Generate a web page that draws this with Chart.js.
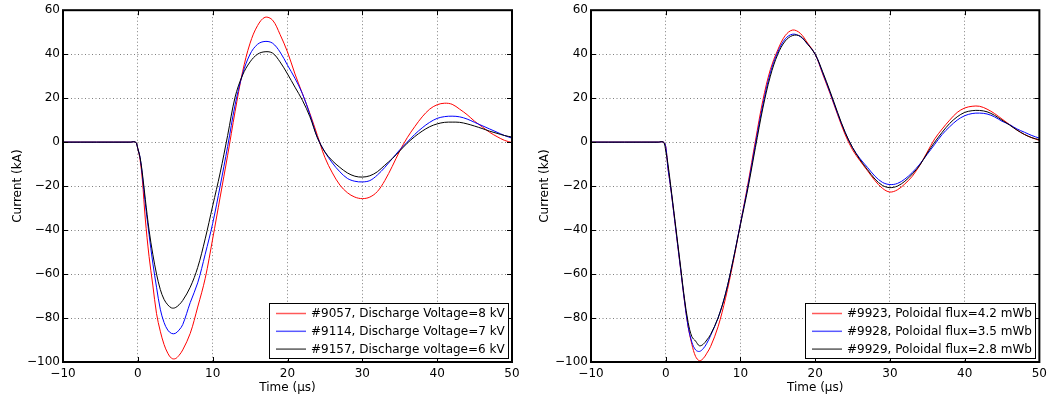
<!DOCTYPE html>
<html>
<head>
<meta charset="utf-8">
<title>Discharge current waveforms</title>
<script src="https://cdn.jsdelivr.net/npm/chart.js@4.4.1/dist/chart.umd.min.js"></script>
<style>
  html, body { margin: 0; padding: 0; background: #fff; }
  #wrap { position: relative; width: 1052px; height: 402px; }
  .panel { position: absolute; top: 0; }
  #voltageChart { left: 0; }
  #fluxChart { left: 526px; }
</style>
</head>
<body>
<div id="wrap">
  <canvas id="voltageChart" class="panel" width="526" height="402"></canvas>
  <canvas id="fluxChart" class="panel" width="526" height="402"></canvas>
</div>
<script>
/* sample times (us), shared by every trace */
const timeUs = [-10, -1, -0.3, 0, 0.3, 0.6, 1, 1.5, 2, 2.5, 3, 3.5, 4, 4.5, 5, 5.5, 6,
  7, 8, 9, 10, 11, 12, 13, 14, 15, 16, 17, 18, 19, 20, 21, 22, 23, 24, 25, 26, 27, 28, 29,
  30, 31, 32, 33, 34, 35, 36, 37, 38, 39, 40, 41, 42, 43, 44, 45, 46, 47, 48, 49, 50];

/* current (kA), discharge voltage scan */
const shot9057 = [0, 0, 0, -3, -8, -17, -35, -52, -65, -78, -86, -92, -96, -98.3, -98.5, -97, -94.5,
  -87, -75, -62, -44, -25, -6, 14, 32, 45, 53, 56.8, 55.5, 49, 41, 31, 22, 13, 3, -7, -14, -19.5, -23, -25,
  -25.7, -25, -22.5, -17.5, -11, -4, 2, 7, 11.5, 15, 17, 17.7, 17.2, 15, 12.5, 9.5, 7, 4.5, 2.5, 0.8, -0.2];
const shot9114 = [0, 0, 0, -3, -7, -15, -28, -42, -55, -66, -76, -82, -85.5, -87, -87, -85.5, -83,
  -73, -64, -51, -37, -20, -2, 17, 31, 40, 44.5, 45.8, 45, 41, 35, 29, 22, 12.5, 2, -4.5, -9.5, -13.5, -16.5, -17.8,
  -18.1, -17.5, -15, -11.5, -7.5, -3.5, 0, 3.5, 6.5, 9, 10.8, 11.6, 11.8, 11.5, 10.5, 9, 7.5, 6, 4.5, 3, 1.8];
const shot9157 = [0, 0, 0, -3, -7, -14, -26, -40, -51, -60, -67, -71.5, -74, -75.4, -75.3, -74, -72,
  -66, -57, -44, -29, -14, 3, 20.5, 30.5, 36.5, 40, 41.1, 40.5, 36.5, 31, 25, 19, 11.5, 2, -4.5, -8.5, -11.5, -14, -15.5,
  -15.9, -15.3, -13.5, -10.5, -7.5, -4, -0.5, 2.5, 5, 7, 8.3, 9, 9.1, 9, 8.3, 7.3, 6.2, 5, 4, 3, 2.3];

/* current (kA), poloidal flux scan */
const shot9923 = [0, 0, 0, -2, -12, -19, -30, -44, -58, -72, -84, -92, -97.5, -99.4, -98.5, -96, -93,
  -84, -71, -55, -37, -19, 0.5, 19, 33, 42, 48.5, 51, 49.5, 45, 40, 31, 22, 12.5, 3.5, -3.5, -8.5, -13, -17.5, -21,
  -22.7, -21.7, -19, -15.5, -10.5, -4.5, 1.5, 6, 10, 13.5, 15.5, 16.3, 16.3, 15, 13, 10.5, 8, 5.5, 3.5, 2, 0.8];
const shot9928 = [0, 0, 0, -2, -12, -19, -30, -44, -58, -72, -84, -91, -94.5, -95.2, -94, -91.5, -88,
  -80, -69, -54, -37, -20, -1, 17, 31.5, 41, 47, 49.1, 48, 44.5, 40, 31.5, 22.5, 13, 4.5, -2.5, -7.5, -11.5, -15.5, -18.3,
  -19.3, -18.8, -16.8, -13.8, -10, -5.5, -1, 3.5, 7, 10, 12, 13, 13.2, 12.8, 11.5, 9.5, 8, 6, 4.5, 3, 1.8];
const shot9929 = [0, 0, 0, -4, -10, -18, -29, -43, -57, -71, -82, -88.5, -90.5, -92.6, -92, -90, -87.5,
  -80, -69, -54, -37.5, -21, -2.5, 15.5, 30, 40, 46, 48.5, 48.2, 44.5, 40, 32, 23, 13.5, 4.5, -2.5, -8, -12.5, -16.8, -19.7,
  -20.7, -20, -17.8, -14.5, -10.5, -5, 0, 4.5, 8.5, 11.5, 13.5, 14.3, 14.4, 13.8, 12.2, 10, 7.8, 5.5, 3.5, 2, 1.1];

const voltageLabels = ["#9057, Discharge Voltage=8 kV", "#9114, Discharge Voltage=7 kV", "#9157, Discharge voltage=6 kV"];
const fluxLabels = ["#9923, Poloidal flux=4.2 mWb", "#9928, Poloidal flux=3.5 mWb", "#9929, Poloidal flux=2.8 mWb"];
const traceColors = ["#ff0000", "#0000ff", "#000000"];

const xTicks = [-10, 0, 10, 20, 30, 40, 50];
const yTicks = [-100, -80, -60, -40, -20, 0, 20, 40, 60];

const FONT = "'DejaVu Sans', 'Liberation Sans', sans-serif";
const minus = (v) => (v < 0 ? "\u2212" + Math.abs(v) : String(v));

// closed axes box with inward ticks on all four sides
const axesBox = {
  id: "axesBox",
  afterDatasetsDraw(chart) {
    const { ctx, chartArea: a, scales } = chart;
    const len = 5;
    ctx.save();
    ctx.strokeStyle = "#000";
    ctx.lineWidth = 1;
    ctx.beginPath();
    xTicks.forEach((v) => {
      const px = Math.round(scales.x.getPixelForValue(v)) + 0.5;
      ctx.moveTo(px, a.bottom); ctx.lineTo(px, a.bottom - len);
      ctx.moveTo(px, a.top); ctx.lineTo(px, a.top + len);
    });
    yTicks.forEach((v) => {
      const py = Math.round(scales.y.getPixelForValue(v)) + 0.5;
      ctx.moveTo(a.left, py); ctx.lineTo(a.left + len, py);
      ctx.moveTo(a.right, py); ctx.lineTo(a.right - len, py);
    });
    ctx.stroke();
    ctx.lineWidth = 2;
    ctx.strokeRect(a.left, a.top, a.right - a.left, a.bottom - a.top);
    ctx.restore();
  }
};

// legend box tucked into the lower right corner of the axes
const insetLegend = {
  id: "insetLegend",
  afterDatasetsDraw(chart) {
    const { ctx, chartArea: a } = chart;
    const sets = chart.data.datasets;
    ctx.save();
    ctx.font = "12px " + FONT;
    const textW = Math.max(...sets.map((d) => ctx.measureText(d.label).width));
    const padL = 7, lineLen = 30, gap = 5, padR = 3, rowH = 17.8;
    const w = Math.round(padL + lineLen + gap + textW + padR);
    const h = 55;
    const x = Math.round(a.right - 4 - w);
    const y = Math.round(a.bottom - 4 - h);
    ctx.fillStyle = "#fff";
    ctx.fillRect(x, y, w, h);
    ctx.strokeStyle = "#000";
    ctx.lineWidth = 1;
    ctx.strokeRect(x + 0.5, y + 0.5, w, h);
    sets.forEach((d, i) => {
      const cy = y + 10.5 + i * rowH;
      ctx.strokeStyle = d.borderColor;
      ctx.globalAlpha = 0.65;
      ctx.lineWidth = 1.5;
      ctx.beginPath();
      ctx.moveTo(x + padL, cy);
      ctx.lineTo(x + padL + lineLen, cy);
      ctx.stroke();
      ctx.globalAlpha = 1;
      ctx.fillStyle = "#000";
      ctx.textBaseline = "middle";
      ctx.fillText(d.label, x + padL + lineLen + gap, cy + 0.5);
    });
    ctx.restore();
  }
};

function buildPanel(canvasId, labels, series, yAxisWidth, yTitlePad, rightPad) {
  const datasets = series.map((vals, i) => ({
    label: labels[i],
    data: timeUs.map((t, k) => ({ x: t, y: vals[k] })),
    borderColor: traceColors[i],
    borderWidth: 1,
    pointRadius: 0,
    tension: 0.35,
    fill: false
  }));
  // last trace drawn on top
  datasets.forEach((d, i) => { d.order = series.length - i; });

  return new Chart(document.getElementById(canvasId), {
    type: "line",
    data: { datasets },
    options: {
      responsive: false,
      animation: false,
      layout: { padding: { top: 9, right: rightPad, left: 0, bottom: 0 } },
      plugins: { legend: { display: false }, tooltip: { enabled: false } },
      scales: {
        x: {
          type: "linear",
          min: -10,
          max: 50,
          afterBuildTicks: (s) => { s.ticks = xTicks.map((v) => ({ value: v })); },
          afterFit: (s) => { s.height = 40; },
          ticks: { color: "#000", font: { family: FONT, size: 12 }, padding: 5, callback: minus, maxRotation: 0 },
          grid: { color: "rgba(0,0,0,0.5)", lineWidth: 1, drawTicks: false },
          border: { display: true, color: "#000", width: 1, dash: [1, 2.5] },
          title: { display: true, text: "Time (\u03bcs)", color: "#000", font: { family: FONT, size: 12 }, padding: { top: 0, bottom: 6.5 } }
        },
        y: {
          min: -100,
          max: 60,
          afterBuildTicks: (s) => { s.ticks = yTicks.map((v) => ({ value: v })); },
          afterFit: (s) => { s.width = yAxisWidth; },
          ticks: { color: "#000", font: { family: FONT, size: 12 }, padding: 3, callback: minus },
          grid: { color: "rgba(0,0,0,0.5)", lineWidth: 1, drawTicks: false },
          border: { display: true, color: "#000", width: 1, dash: [1, 2.5] },
          title: { display: true, text: "Current (kA)", color: "#000", font: { family: FONT, size: 12 }, padding: { top: yTitlePad, bottom: 0 } }
        }
      }
    },
    plugins: [axesBox, insetLegend]
  });
}

buildPanel("voltageChart", voltageLabels, [shot9057, shot9114, shot9157], 63, 10.5, 14);
buildPanel("fluxChart", fluxLabels, [shot9923, shot9928, shot9929], 65, 11.5, 11);
</script>
</body>
</html>
